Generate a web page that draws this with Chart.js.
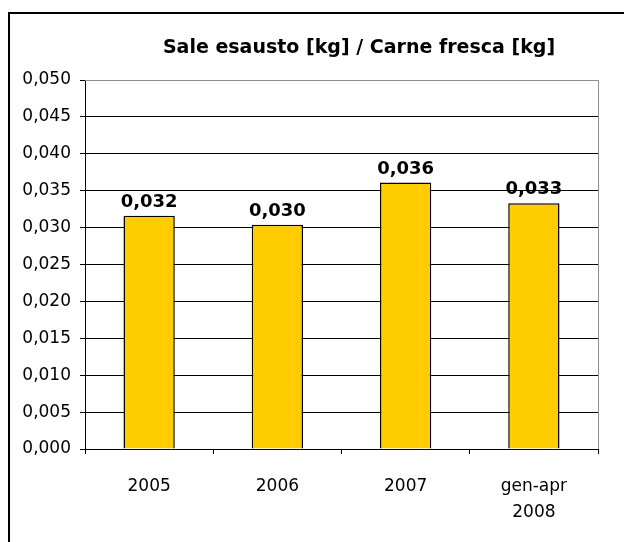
<!DOCTYPE html>
<html lang="it">
<head>
<meta charset="UTF-8">
<title>Sale esausto / Carne fresca</title>
<script src="https://cdn.jsdelivr.net/npm/chart.js"></script>
<style>
  html, body { margin: 0; padding: 0; background: #fff; }
  #wrap { width: 624px; height: 542px; }
</style>
</head>
<body>
<div id="wrap"><canvas id="chart" width="624" height="542"></canvas></div>
<script>
// dati
const chartTitle = 'Sale esausto [kg] / Carne fresca [kg]';
const years = [['2005'], ['2006'], ['2007'], ['gen-apr', '2008']];
const ratio = [0.0316, 0.0304, 0.0361, 0.0333];
const yTicks = [0, 0.005, 0.010, 0.015, 0.020, 0.025, 0.030, 0.035, 0.040, 0.045, 0.050];

const FONT = '"DejaVu Sans", Verdana, sans-serif';

function fmt(v) {
  return v.toFixed(3).replace('.', ',');
}

// cornice, titolo ed etichette sopra le barre
const decor = {
  id: 'decor',
  beforeDraw(chart) {
    const c = chart.ctx;
    c.save();
    c.fillStyle = '#fff';
    c.fillRect(0, 0, chart.width, chart.height);
    c.strokeStyle = '#000';
    c.lineWidth = 2;
    c.strokeRect(9, 13, 700, 700);
    c.restore();
  },
  afterDraw(chart) {
    const c = chart.ctx;
    const area = chart.chartArea;
    c.save();
    // bordo destro e superiore dell'area grigio
    c.strokeStyle = '#8c8c8c';
    c.lineWidth = 1;
    c.beginPath();
    c.moveTo(area.left, area.top + 0.5);
    c.lineTo(area.right + 0.5, area.top + 0.5);
    c.lineTo(area.right + 0.5, area.bottom);
    c.stroke();

    c.fillStyle = '#000';
    c.font = 'bold 19px ' + FONT;
    c.textAlign = 'center';
    c.textBaseline = 'middle';
    c.fillText(chartTitle, 359, 48);

    c.font = 'bold 18px ' + FONT;
    c.textBaseline = 'alphabetic';
    chart.getDatasetMeta(0).data.forEach((bar, i) => {
      c.fillText(fmt(ratio[i]), bar.x, bar.y - 9);
    });
    c.restore();
  }
};

new Chart(document.getElementById('chart'), {
  type: 'bar',
  data: {
    labels: years,
    datasets: [{
      data: ratio,
      backgroundColor: '#FFCC00',
      borderColor: '#000',
      borderWidth: 1.5,
      borderSkipped: 'bottom',
      barPercentage: 0.4,
      categoryPercentage: 1.0
    }]
  },
  options: {
    responsive: false,
    animation: false,
    layout: { padding: { left: 0, right: 26, top: 80, bottom: 0 } },
    plugins: {
      legend: { display: false },
      title: { display: false },
      tooltip: { enabled: false }
    },
    scales: {
      x: {
        grid: {
          offset: true,
          drawOnChartArea: false,
          color: '#000',
          tickLength: 5
        },
        border: { color: '#000', width: 1 },
        ticks: {
          color: '#000',
          padding: 20,
          maxRotation: 0,
          font: { family: FONT, size: 17, lineHeight: 1.5 }
        },
        afterFit(scale) { scale.height = 93; }
      },
      y: {
        min: 0,
        max: 0.05,
        afterBuildTicks(scale) {
          scale.ticks = yTicks.map(v => ({ value: v }));
        },
        grid: {
          color: ctx => (ctx.tick && ctx.tick.value >= 0.05 ? '#8c8c8c' : '#000'),
          tickColor: '#000',
          tickLength: 5
        },
        border: { color: '#000', width: 1 },
        ticks: {
          color: '#000',
          padding: 9,
          font: { family: FONT, size: 17 },
          callback: v => fmt(v)
        },
        afterFit(scale) { scale.width = 85; }
      }
    }
  },
  plugins: [decor]
});
</script>
</body>
</html>
